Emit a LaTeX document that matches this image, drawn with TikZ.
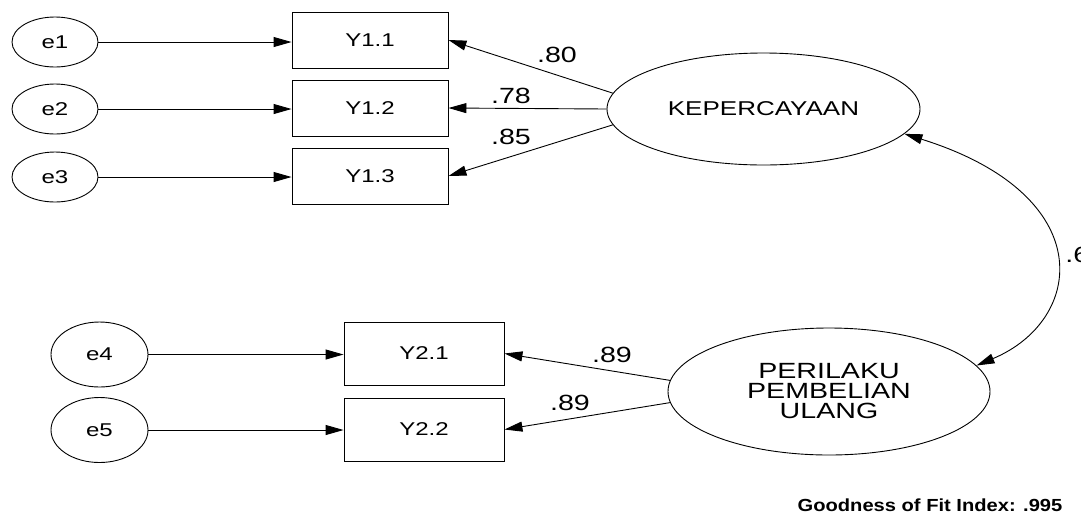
\documentclass[tikz,border=0pt]{standalone}
\usepackage{fontspec}
\newfontfamily\amosfont[FakeStretch=1.3]{Liberation Sans}
\newfontfamily\fitfont[FakeStretch=1.15]{Liberation Sans}
\usetikzlibrary{arrows.meta,shapes.geometric}
\begin{document}
\begin{tikzpicture}[x=1pt,y=-1pt,line width=0.9pt,
		err/.style={draw,ellipse,inner sep=0pt,minimum width=86pt,minimum height=50pt,font=\amosfont\fontsize{18.5}{20}\selectfont},
		ind/.style={draw,rectangle,inner sep=0pt,minimum width=156pt,minimum height=56pt,font=\amosfont\fontsize{18.5}{20}\selectfont},
		lat/.style={draw,ellipse,inner sep=0pt,align=center},
		lbl/.style={inner sep=0pt,font=\amosfont\fontsize{22}{24}\selectfont},
		arr/.style={-{Triangle[length=18pt,width=10pt]}},
		cov/.style={{Triangle[length=18pt,width=10pt]}-{Triangle[length=18pt,width=10pt]}}]
		\useasboundingbox (0,0) rectangle (1081,523);
		
		\node[err] (e1) at (55,42) {e1};
		\node[err] (e2) at (55,109) {e2};
		\node[err] (e3) at (55,177) {e3};
		\node[ind] (y11) at (370,40) {Y1.1};
		\node[ind] (y12) at (370,108) {Y1.2};
		\node[ind] (y13) at (370,176) {Y1.3};
		\node[lat,minimum width=313pt,minimum height=112pt,font=\amosfont\fontsize{20}{20}\selectfont] (kep) at (763.5,109) {KEPERCAYAAN};
		
		\node[err,minimum width=97pt,minimum height=65pt] (e4) at (99.5,354.5) {e4};
		\node[err,minimum width=97pt,minimum height=65pt] (e5) at (99.5,430) {e5};
		\node[ind,minimum width=160pt,minimum height=63pt] (y21) at (424,353.5) {Y2.1};
		\node[ind,minimum width=160pt,minimum height=63pt] (y22) at (424,429.5) {Y2.2};
		\node[lat,minimum width=322pt,minimum height=127pt,font=\amosfont\fontsize{22}{20}\selectfont] (per) at (829,391.5) {PERILAKU\\PEMBELIAN\\ULANG};
		
		\draw[arr] (e1) -- (y11.west |- e1);
		\draw[arr] (e2) -- (y12.west |- e2);
		\draw[arr] (e3) -- (y13.west |- e3);
		\draw[arr] (e4) -- (y21.west |- e4);
		\draw[arr] (e5) -- (y22.west |- e5);
		
		\draw[arr] (kep.174) -- (y11.east);
		\draw[arr] (kep.west) -- (y12.east);
		\draw[arr] (kep.186) -- (y13.east);
		\draw[arr] (per.176) -- (y21.east);
		\draw[arr] (per.184) -- (y22.east);
		\draw[cov] (kep.-10) .. controls (1100,195) and (1085,320) .. (per.10);
		
		\node[lbl] (l80) at (557,54.5) {.80};
		\node[lbl] (l78) at (511,95.5) {.78};
		\node[lbl] (l85) at (511,137) {.85};
		\node[lbl] (l89a) at (612,355) {.89};
		\node[lbl] (l89b) at (570,403) {.89};
		\node[lbl,anchor=west] (l6) at (1065,255) {.6};
		\node[font=\fitfont\fontsize{17.5}{18}\bfseries\selectfont] (gfi) at (930,505) {Goodness of Fit Index: .995};
	\end{tikzpicture}
\end{document}
